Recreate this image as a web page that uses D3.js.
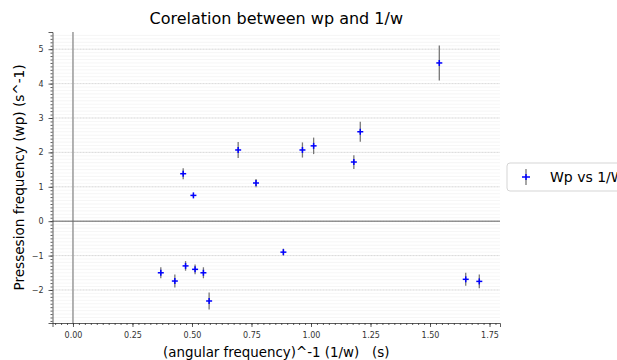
<!DOCTYPE html>
<html>
<head>
<meta charset="utf-8">
<script src="https://cdn.jsdelivr.net/npm/d3@7"></script>
<style>
  body { margin: 0; background: #fff; overflow: hidden; }
  svg { font-family: "DejaVu Sans", sans-serif; }
</style>
</head>
<body>
<div id="chart"></div>
<script>
// inverse angular frequency (s)
const invW = [0.369, 0.428, 0.463, 0.473, 0.506, 0.513, 0.548, 0.572, 0.694, 0.769,
              0.884, 0.964, 1.011, 1.180, 1.207, 1.539, 1.650, 1.707];
// precession frequency (s^-1)
const wp = [-1.50, -1.74, 1.38, -1.30, 0.75, -1.40, -1.50, -2.32, 2.07, 1.11,
            -0.90, 2.07, 2.19, 1.72, 2.60, 4.60, -1.69, -1.75];
// error on wp
const wpErr = [0.16, 0.19, 0.16, 0.14, 0.05, 0.14, 0.16, 0.25, 0.23, 0.12,
               0.10, 0.22, 0.24, 0.20, 0.29, 0.51, 0.19, 0.20];
const xTicks = [0, 0.25, 0.5, 0.75, 1, 1.25, 1.5, 1.75];
const yTicks = [-2, -1, 0, 1, 2, 3, 4, 5];

const width = 617, height = 360;
const plotLeft = 52.5, plotRight = 500, plotTop = 32, plotBottom = 323;

const svg = d3.select("#chart").append("svg")
  .attr("width", width)
  .attr("height", height);

const x = d3.scaleLinear().domain([-0.086, 1.794]).range([plotLeft, plotRight]);
const y = d3.scaleLinear().domain([-2.96, 5.50]).range([plotBottom, plotTop]);

// minor + major horizontal grid
const minorY = d3.range(-29, 55).map(d => d / 10);
svg.append("g")
  .selectAll("line")
  .data(minorY)
  .enter().append("line")
  .attr("x1", plotLeft).attr("x2", plotRight)
  .attr("y1", d => y(d)).attr("y2", d => y(d))
  .attr("stroke", "#f0f0f0")
  .attr("stroke-width", 0.6);

svg.append("g")
  .selectAll("line")
  .data(yTicks)
  .enter().append("line")
  .attr("x1", plotLeft).attr("x2", plotRight)
  .attr("y1", d => y(d)).attr("y2", d => y(d))
  .attr("stroke", "#d3d3d3")
  .attr("stroke-width", 0.8)
  .attr("stroke-dasharray", "2,1");

// zero lines
svg.append("line")
  .attr("x1", x(0)).attr("x2", x(0))
  .attr("y1", plotTop).attr("y2", plotBottom)
  .attr("stroke", "#999")
  .attr("stroke-width", 1.5);

svg.append("line")
  .attr("x1", plotLeft).attr("x2", plotRight)
  .attr("y1", y(0)).attr("y2", y(0))
  .attr("stroke", "#666")
  .attr("stroke-width", 1);

// axes
svg.append("g")
  .attr("transform", "translate(0," + plotBottom + ")")
  .call(d3.axisBottom(x).tickValues(xTicks).tickFormat(d3.format(".2f"))
    .tickSize(4).tickPadding(5));
svg.append("g")
  .attr("transform", "translate(0," + plotBottom + ")")
  .call(d3.axisBottom(x).tickValues(d3.range(-3, 72).map(d => d * 0.025))
    .tickSize(2).tickFormat(""))
  .call(g => g.select(".domain").remove());

svg.append("g")
  .attr("transform", "translate(" + plotLeft + ",0)")
  .call(d3.axisLeft(y).tickValues(yTicks).tickFormat(d3.format("d"))
    .tickSize(4).tickPadding(5));
svg.append("g")
  .attr("transform", "translate(" + plotLeft + ",0)")
  .call(d3.axisLeft(y).tickValues(minorY).tickSize(2).tickFormat(""))
  .call(g => g.select(".domain").remove());

svg.selectAll(".domain").attr("stroke", "#333").attr("stroke-width", 0.8);
svg.selectAll(".tick line").attr("stroke", "#333").attr("stroke-width", 0.8);
svg.selectAll(".tick text")
  .attr("font-family", "DejaVu Sans")
  .attr("font-size", 8)
  .attr("fill", "#333");

// error bars
const pts = invW.map((v, i) => ({x: v, y: wp[i], e: wpErr[i]}));
svg.append("g")
  .selectAll("line")
  .data(pts)
  .enter().append("line")
  .attr("x1", d => x(d.x)).attr("x2", d => x(d.x))
  .attr("y1", d => y(d.y - d.e)).attr("y2", d => y(d.y + d.e))
  .attr("stroke", "#777")
  .attr("stroke-width", 1.3);

// + markers
const markers = svg.append("g")
  .selectAll("g")
  .data(pts)
  .enter().append("g")
  .attr("transform", d => "translate(" + x(d.x) + "," + y(d.y) + ")");
markers.append("line").attr("x1", -3).attr("x2", 3).attr("stroke", "blue").attr("stroke-width", 1.5);
markers.append("line").attr("y1", -3).attr("y2", 3).attr("stroke", "blue").attr("stroke-width", 1.5);

// title and labels
svg.append("text")
  .attr("x", (plotLeft + plotRight) / 2).attr("y", 24)
  .attr("text-anchor", "middle")
  .attr("font-size", 16)
  .text("Corelation between wp and 1/w");

svg.append("text")
  .attr("x", (plotLeft + plotRight) / 2).attr("y", 357)
  .attr("text-anchor", "middle")
  .attr("font-size", 13.4)
  .style("white-space", "pre")
  .text("(angular frequency)^-1 (1/w)   (s)");

svg.append("text")
  .attr("transform", "translate(24," + ((plotTop + plotBottom) / 2) + ") rotate(-90)")
  .attr("text-anchor", "middle")
  .attr("font-size", 13.6)
  .text("Pressesion frequency (wp) (s^-1)");

// legend (cut off at the right edge, as in the original figure)
const lg = svg.append("g").attr("transform", "translate(507,163)");
lg.append("rect")
  .attr("width", 130).attr("height", 28)
  .attr("rx", 3)
  .attr("fill", "#fff")
  .attr("stroke", "#d5d5d5");
lg.append("line").attr("x1", 19).attr("x2", 19).attr("y1", 6).attr("y2", 22)
  .attr("stroke", "#777").attr("stroke-width", 1.3);
lg.append("line").attr("x1", 15).attr("x2", 23).attr("y1", 14).attr("y2", 14)
  .attr("stroke", "blue").attr("stroke-width", 1.5);
lg.append("line").attr("x1", 19).attr("x2", 19).attr("y1", 11).attr("y2", 17)
  .attr("stroke", "blue").attr("stroke-width", 1.5);
lg.append("text")
  .attr("x", 43).attr("y", 19)
  .attr("font-size", 14)
  .text("Wp vs 1/W");
</script>
</body>
</html>
